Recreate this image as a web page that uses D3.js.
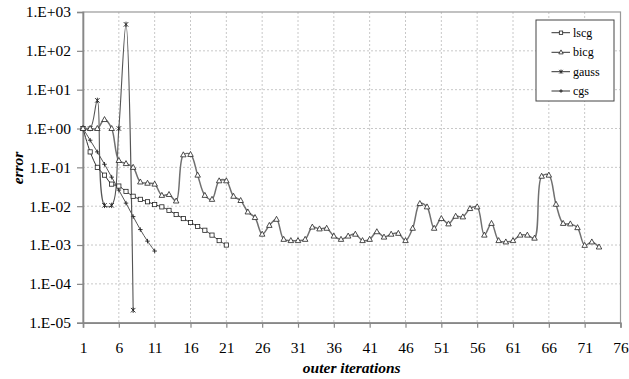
<!DOCTYPE html>
<html>
<head>
<meta charset="utf-8">
<script src="https://cdn.jsdelivr.net/npm/d3@7/dist/d3.min.js"></script>
<style>
  body { margin: 0; background: #fff; }
  svg { display: block; }
  text { font-family: "Liberation Serif", "Times New Roman", serif; fill: #000; }
</style>
</head>
<body>
<svg id="chart" width="629" height="379"></svg>
<script>
// ---- data -------------------------------------------------------------
const xTicks = [1, 6, 11, 16, 21, 26, 31, 36, 41, 46, 51, 56, 61, 66, 71, 76];
const yTicks = [1e3, 1e2, 1e1, 1e0, 1e-1, 1e-2, 1e-3, 1e-4, 1e-5];
const yTickLabels = ["1.E+03", "1.E+02", "1.E+01", "1.E+00", "1.E-01", "1.E-02", "1.E-03", "1.E-04", "1.E-05"];

const seriesNames = ["lscg", "bicg", "gauss", "cgs"];

// error per outer iteration (iteration 1, 2, 3, ...)
const lscg = [1, 0.25, 0.1, 0.063, 0.037, 0.033, 0.024, 0.018, 0.015, 0.013, 0.011,
  0.0096, 0.0078, 0.0061, 0.0048, 0.0038, 0.0030, 0.0024, 0.0018, 0.0013, 0.001];

const bicg = [1, 1, 1, 1.7, 1.0, 0.15, 0.125, 0.10, 0.042, 0.039, 0.037,
  0.019, 0.020, 0.0136, 0.21, 0.215, 0.063, 0.019, 0.015, 0.045,
  0.045, 0.018, 0.014, 0.0071, 0.0051, 0.0019, 0.0032, 0.0046, 0.0014, 0.0013,
  0.0013, 0.0014, 0.0029, 0.0026, 0.0027, 0.0017, 0.0014, 0.0017, 0.0019, 0.0013,
  0.0014, 0.0022, 0.0016, 0.0019, 0.0020, 0.0013, 0.0027, 0.0117, 0.0096, 0.0027,
  0.0048, 0.0035, 0.0055, 0.0053, 0.0087, 0.0096, 0.0018, 0.0036, 0.0013, 0.0012,
  0.0013, 0.0018, 0.0018, 0.0015, 0.059, 0.063, 0.0112, 0.0036, 0.0035, 0.0028,
  0.00098, 0.0012, 0.00089];

const gauss = [1, 1, 5.3, 0.0105, 0.0105, 1, 480, 2.1e-5];

const cgs = [1, 0.5, 0.25, 0.12, 0.056, 0.026, 0.012, 0.0054, 0.0025, 0.00126, 0.0007];

// ---- layout -----------------------------------------------------------
const svg = d3.select("#chart");
const plotLeft = 83, plotRight = 620.5, plotTop = 12, plotBottom = 322.7;

const x = d3.scaleLinear().domain([1, 76]).range([plotLeft, plotRight]);
const y = d3.scaleLog().domain([1e-5, 1e3]).range([plotBottom, plotTop]);

// gridlines
const grid = svg.append("g").attr("stroke", "#c8c8c8").attr("stroke-dasharray", "2,2").attr("stroke-width", 1);
xTicks.slice(1, -1).forEach(t => {
  grid.append("line").attr("x1", x(t)).attr("x2", x(t)).attr("y1", plotTop).attr("y2", plotBottom);
});
yTicks.slice(1, -1).forEach(t => {
  grid.append("line").attr("x1", plotLeft).attr("x2", plotRight).attr("y1", y(t)).attr("y2", y(t));
});

// plot-area frame
svg.append("rect")
  .attr("x", plotLeft).attr("y", plotTop)
  .attr("width", plotRight - plotLeft).attr("height", plotBottom - plotTop)
  .attr("fill", "none").attr("stroke", "#999").attr("stroke-width", 1.2);

// axes
const xAxis = d3.axisBottom(x).tickValues(xTicks).tickSize(5).tickPadding(14).tickFormat(d3.format("d"));
const yAxis = d3.axisLeft(y).tickValues(yTicks).tickSize(6).tickPadding(6)
  .tickFormat((d, i) => yTickLabels[i]);

const gx = svg.append("g").attr("transform", `translate(0,${plotBottom})`).call(xAxis);
const gy = svg.append("g").attr("transform", `translate(${plotLeft},0)`).call(yAxis);
[gx, gy].forEach(g => {
  g.attr("font-family", null);
  g.select(".domain").attr("stroke", "#888").attr("stroke-width", 1.6);
  g.selectAll(".tick line").attr("stroke", "#888").attr("stroke-width", 1.2);
  g.selectAll(".tick text").style("font-family", "'Liberation Serif', serif").style("font-size", "15.5px").attr("fill", "#000");
});

// axis titles
svg.append("text")
  .attr("x", (plotLeft + plotRight) / 2).attr("y", 373)
  .attr("text-anchor", "middle")
  .style("font-size", "15.5px").style("font-weight", "bold").style("font-style", "italic")
  .text("outer iterations");
svg.append("text")
  .attr("transform", `translate(23,168) rotate(-90)`)
  .attr("text-anchor", "middle")
  .style("font-size", "15.5px").style("font-weight", "bold").style("font-style", "italic")
  .text("error");

// ---- series -----------------------------------------------------------
const line = d3.line()
  .x((d, i) => x(i + 1))
  .y(d => y(d))
  .curve(d3.curveCatmullRom.alpha(0.5));

const markers = {
  square: (g, s) => g.append("rect").attr("x", -s / 2).attr("y", -s / 2).attr("width", s).attr("height", s)
    .attr("fill", "#fff").attr("stroke", "#222").attr("stroke-width", 0.8),
  triangle: (g, s) => g.append("path").attr("d", `M0,${-s * 0.6}L${s * 0.55},${s * 0.4}L${-s * 0.55},${s * 0.4}Z`)
    .attr("fill", "#fff").attr("stroke", "#222").attr("stroke-width", 0.8),
  star: (g, s) => g.append("path")
    .attr("d", `M${-s / 2},${-s / 2}L${s / 2},${s / 2}M${s / 2},${-s / 2}L${-s / 2},${s / 2}M0,${-s * 0.6}L0,${s * 0.6}`)
    .attr("fill", "none").attr("stroke", "#222").attr("stroke-width", 0.9),
  plus: (g, s) => g.append("path")
    .attr("d", `M${-s / 2},0L${s / 2},0M0,${-s / 2}L0,${s / 2}`)
    .attr("fill", "none").attr("stroke", "#222").attr("stroke-width", 0.9)
};

const styles = {
  lscg: { data: lscg, stroke: "#333", width: 1.0, marker: "square", size: 4.2 },
  bicg: { data: bicg, stroke: "#707070", width: 1.5, marker: "triangle", size: 5 },
  gauss: { data: gauss, stroke: "#555", width: 1.1, marker: "star", size: 4.5 },
  cgs: { data: cgs, stroke: "#555", width: 1.0, marker: "plus", size: 4.5 }
};

const plot = svg.append("g");
["cgs", "gauss", "lscg", "bicg"].forEach(name => {
  const st = styles[name];
  plot.append("path").datum(st.data)
    .attr("d", line)
    .attr("fill", "none").attr("stroke", st.stroke).attr("stroke-width", st.width);
  st.data.forEach((v, i) => {
    const g = plot.append("g").attr("transform", `translate(${x(i + 1)},${y(v)})`);
    markers[st.marker](g, st.size);
  });
});

// ---- legend -----------------------------------------------------------
const lg = svg.append("g");
lg.append("rect").attr("x", 536).attr("y", 20).attr("width", 78).attr("height", 81)
  .attr("fill", "#fff").attr("stroke", "#444").attr("stroke-width", 1);
const legendY = [32.7, 52.3, 71.7, 91];
seriesNames.forEach((name, i) => {
  const st = styles[name];
  const yy = legendY[i];
  lg.append("line").attr("x1", 551.5).attr("x2", 570).attr("y1", yy).attr("y2", yy)
    .attr("stroke", "#333").attr("stroke-width", 1);
  const g = lg.append("g").attr("transform", `translate(561,${yy})`);
  markers[st.marker](g, st.size * 0.8);
  lg.append("text").attr("x", 573).attr("y", yy + 4)
    .style("font-size", "12px")
    .text(name);
});
</script>
</body>
</html>
